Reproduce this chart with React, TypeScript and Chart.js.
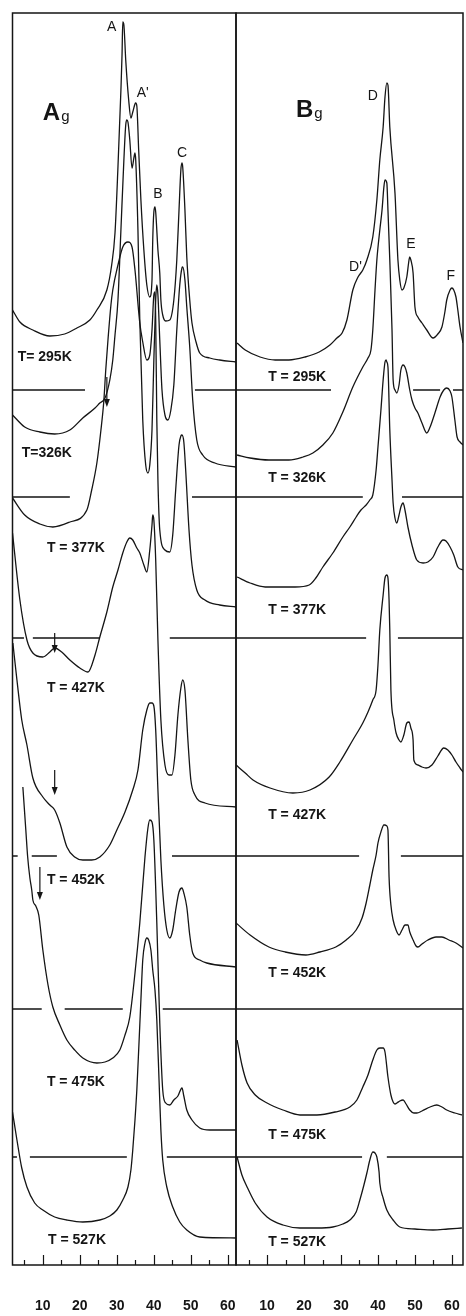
import React, { useEffect, useRef } from 'react';
import { Chart, registerables } from 'chart.js';

Chart.register(...registerables);

// ---------- data (wavenumber cm^-1, intensity in arbitrary units above each zero line) ----------
const temperatures = ['295K', '326K', '377K', '427K', '452K', '475K', '527K'];
const zeroLineOffsets = [875, 768, 627, 409, 256, 108, 0];
const tickValues = [10, 20, 30, 40, 50, 60];

const ag295 = [[1.8,80],[3.8,68],[7.3,60],[11.9,54],[15.9,56],[19.2,62],[22.7,70],[24.6,80],[27.3,100],[28.6,125],[29.5,157],[30.3,223],[31.1,300],[31.4,335],[31.6,368],[31.9,365],[32.4,330],[33.2,290],[33.8,272],[34.3,278],[34.9,286],[35.1,287],[35.4,284],[35.9,240],[36.5,190],[37.3,140],[38.1,105],[38.9,93],[39.5,110],[39.7,150],[40.0,178],[40.3,183],[40.5,178],[41.1,140],[41.6,117],[41.9,90],[42.4,75],[43.2,69],[44.3,70],[45.4,90],[46.2,130],[46.8,180],[47.3,220],[47.6,227],[47.8,223],[48.4,180],[48.9,133],[49.7,90],[50.3,67],[51.4,48],[52.4,37],[55.1,32],[57.8,30],[62.2,28]];
const ag326 = [[1.8,82],[5.1,70],[9.2,65],[13.2,63],[17.3,67],[20.8,79],[24.1,89],[25.4,94],[26.8,99],[28.1,117],[28.9,137],[29.5,162],[30.3,197],[31.1,267],[31.9,337],[32.4,372],[32.7,377],[33.0,375],[33.5,357],[34.1,329],[34.6,339],[34.9,344],[35.1,337],[35.7,267],[36.2,177],[37.0,77],[37.8,32],[38.4,24],[38.9,32],[39.5,67],[40.0,137],[40.5,197],[40.8,212],[41.1,202],[41.6,157],[42.2,107],[43.0,82],[43.8,77],[44.6,87],[45.4,112],[46.2,167],[47.0,212],[47.6,229],[47.8,230],[48.4,217],[48.9,190],[49.7,150],[50.5,97],[51.6,57],[53.2,42],[56.5,34],[62.2,30]];
const ag377 = [[1.8,140],[5.1,123],[9.2,114],[12.7,111],[17.3,116],[21.9,128],[23.2,148],[24.6,175],[25.7,208],[26.5,238],[27.0,268],[27.6,298],[28.4,333],[28.9,348],[30.3,373],[31.6,391],[33.0,396],[34.1,391],[34.9,368],[36.2,315],[37.0,296],[38.1,278],[38.9,283],[39.5,308],[40.0,343],[40.3,346],[40.5,318],[40.8,218],[41.1,158],[41.6,108],[43.0,88],[44.3,86],[45.1,103],[45.9,148],[46.8,193],[47.3,202],[47.6,203],[48.1,196],[48.6,168],[49.5,108],[50.3,73],[51.6,48],[53.8,38],[57.8,33],[62.2,31]];
const ag427 = [[1.8,323],[3.8,256],[5.7,216],[7.3,203],[10.0,199],[11.9,204],[13.2,208],[15.1,204],[17.3,196],[20.0,188],[22.2,184],[24.1,201],[25.4,219],[27.3,244],[28.9,269],[30.3,286],[31.6,303],[32.7,314],[33.5,318],[34.3,316],[35.4,308],[36.2,303],[37.3,291],[38.1,284],[38.9,306],[39.5,331],[39.7,341],[40.0,336],[40.5,296],[41.1,216],[41.9,136],[43.0,91],[44.1,81],[44.9,81],[45.7,101],[46.5,141],[47.3,168],[47.8,176],[48.4,166],[49.2,116],[50.0,76],[51.1,61],[53.8,53],[62.2,49]];
const ag452 = [[1.9,366],[3.0,329],[4.3,289],[5.7,264],[7.3,231],[10.0,212],[11.9,204],[13.2,199],[14.6,186],[16.5,162],[18.6,152],[20.8,149],[23.2,149],[25.4,152],[28.1,164],[30.0,179],[32.2,197],[34.3,219],[35.7,239],[37.0,279],[38.1,299],[38.9,306],[39.5,306],[40.0,303],[40.5,279],[41.1,219],[41.9,149],[42.7,104],[43.5,79],[44.3,71],[45.1,79],[45.9,99],[46.8,117],[47.6,121],[48.1,116],[48.9,102],[49.7,74],[50.5,56],[52.4,49],[54.3,46],[62.2,42]];
const ag475 = [[4.6,370],[5.4,327],[5.9,300],[6.5,279],[7.0,267],[7.3,257],[8.1,251],[8.9,242],[10.0,207],[11.4,172],[12.7,150],[14.6,132],[16.5,117],[18.6,107],[20.8,99],[24.6,94],[26.8,95],[28.9,99],[30.8,107],[32.2,122],[33.5,140],[34.9,184],[36.2,234],[37.6,300],[38.4,329],[38.9,337],[39.5,335],[40.0,317],[40.8,234],[41.6,134],[42.4,67],[43.2,54],[44.3,52],[45.4,57],[46.5,61],[47.6,69],[48.1,61],[48.9,47],[50.3,37],[52.4,29],[55.1,27],[62.2,27]];
const ag527 = [[1.8,153],[3.0,125],[4.3,97],[5.7,78],[7.8,62],[10.0,55],[13.2,48],[16.5,45],[20.8,43],[25.4,45],[28.1,49],[30.0,55],[31.6,65],[33.0,78],[33.8,95],[34.3,115],[34.9,145],[35.4,175],[35.9,215],[36.5,265],[37.0,305],[37.6,322],[38.1,327],[38.6,325],[39.2,315],[39.7,295],[40.3,275],[40.8,245],[41.4,185],[41.9,135],[42.4,105],[43.5,78],[45.1,58],[47.0,43],[48.9,35],[52.4,28],[62.2,27]];

const bg295 = [[1.9,47],[4.1,40],[8.1,33],[12.2,30],[15.9,30],[20.3,33],[24.1,38],[27.0,45],[28.9,52],[30.3,57],[31.6,70],[33.2,100],[34.6,113],[35.9,120],[37.0,130],[38.6,153],[39.7,190],[40.5,230],[41.4,263],[41.9,293],[42.4,307],[42.7,305],[43.2,263],[44.6,197],[45.4,130],[45.9,110],[46.5,100],[47.0,102],[47.8,113],[48.4,130],[48.6,133],[48.9,130],[49.5,117],[50.0,83],[50.8,73],[51.9,67],[53.2,60],[54.9,52],[56.2,56],[57.3,63],[58.1,78],[58.6,90],[59.5,100],[60.0,102],[60.5,100],[61.1,93],[61.6,80],[62.2,63],[63.0,47]];
const bg326 = [[1.9,42],[5.4,39],[10.5,37],[15.9,37],[19.7,40],[22.4,44],[25.1,52],[27.8,64],[30.5,85],[33.2,110],[35.9,130],[37.3,139],[38.1,147],[38.6,167],[39.2,207],[39.7,237],[40.5,267],[41.1,287],[41.6,310],[41.9,317],[42.4,314],[42.7,287],[43.2,237],[43.8,167],[44.1,117],[44.6,107],[45.1,104],[45.7,112],[46.2,127],[46.8,132],[47.3,130],[47.8,124],[48.6,107],[49.2,97],[50.0,89],[50.8,84],[51.9,74],[53.2,64],[54.1,70],[55.4,84],[56.8,100],[57.8,107],[58.6,109],[59.5,106],[60.0,100],[60.8,77],[61.4,60],[62.2,55],[63.0,52]];
const bg377 = [[1.9,61],[5.4,55],[9.5,51],[13.2,51],[17.6,51],[21.4,53],[23.2,60],[25.1,71],[27.8,85],[30.5,101],[32.4,111],[34.1,121],[35.4,128],[36.8,133],[37.8,138],[38.6,143],[39.5,168],[40.0,191],[40.8,228],[41.4,258],[41.9,276],[42.2,278],[42.4,276],[42.7,271],[43.2,208],[43.8,158],[44.1,135],[44.6,120],[45.1,115],[45.7,123],[46.2,131],[46.8,135],[47.3,128],[48.1,111],[49.2,93],[50.5,78],[52.2,75],[53.5,76],[54.9,81],[56.2,91],[57.6,98],[58.4,97],[59.5,91],[60.5,83],[61.6,71],[63.0,68]];
const bg427 = [[1.6,91],[4.1,83],[6.2,76],[10.8,68],[17.0,63],[21.6,66],[26.8,79],[29.7,94],[33.2,116],[35.9,133],[37.3,144],[38.6,156],[39.5,166],[40.0,191],[40.5,226],[41.4,261],[41.9,278],[42.4,281],[42.7,278],[43.0,256],[43.2,226],[43.5,166],[44.3,136],[44.9,123],[45.7,116],[46.2,114],[47.0,121],[47.8,133],[48.4,134],[48.9,128],[49.5,116],[49.7,96],[50.8,91],[51.9,89],[53.0,88],[54.6,91],[56.2,100],[57.8,108],[58.9,106],[60.0,101],[61.1,94],[62.2,88],[63.0,84]];
const bg452 = [[1.6,86],[5.4,74],[10.5,62],[14.9,57],[20.5,54],[24.3,57],[28.6,62],[31.4,69],[34.1,79],[35.7,91],[36.8,106],[37.8,124],[38.6,139],[39.5,154],[40.0,166],[40.8,177],[41.6,184],[41.9,184],[42.4,183],[42.7,179],[43.0,132],[43.5,104],[44.1,89],[44.9,79],[45.7,74],[46.5,79],[47.3,84],[48.1,84],[48.6,77],[49.5,69],[50.3,63],[50.8,62],[51.9,65],[53.5,69],[55.7,72],[57.3,72],[59.2,69],[61.1,66],[63.0,61]];
const bg475 = [[1.9,117],[3.2,92],[4.6,74],[6.8,62],[10.0,54],[14.3,47],[18.9,42],[23.5,42],[28.4,45],[32.4,50],[34.3,57],[35.9,70],[37.3,82],[38.6,97],[39.7,107],[40.5,109],[41.4,109],[41.9,105],[42.7,80],[43.5,62],[44.1,55],[44.6,53],[45.1,54],[45.9,56],[46.8,57],[47.6,53],[48.6,47],[49.7,44],[50.5,44],[51.9,46],[54.1,50],[55.9,52],[57.3,50],[58.6,47],[60.8,44],[62.7,42]];
const bg527 = [[1.9,108],[3.2,90],[4.6,78],[6.8,62],[10.0,48],[14.3,40],[18.9,37],[23.5,37],[27.8,38],[30.5,41],[32.4,45],[34.1,53],[35.1,65],[36.2,80],[37.0,92],[37.8,105],[38.6,113],[39.2,112],[39.7,108],[40.3,93],[40.5,82],[41.4,67],[42.4,55],[44.1,45],[45.9,38],[50.0,36],[54.9,35],[58.9,36],[62.7,37]];

// zero-line segments (wavenumber ranges where each zero line is drawn)
const agZeroSegments = [
  [[1.8, 21.4], [51.1, 62.2]],
  [[1.8, 17.3], [50.3, 62.2]],
  [[1.8, 4.9], [7.3, 25.4], [44.3, 62.2]],
  [[1.8, 3.2], [7.0, 13.8], [44.9, 62.2]],
  [[1.8, 9.7], [15.9, 31.6], [42.4, 62.2]],
  [[1.8, 3.0], [6.5, 32.7], [43.5, 62.2]],
  [],
];
const bgZeroSegments = [
  [[1.6, 27.3], [49.5, 56.8], [60.3, 63.0]],
  [[1.6, 35.9], [46.5, 63.0]],
  [[1.6, 36.8], [45.4, 63.0]],
  [[1.6, 34.9], [46.2, 63.0]],
  [[1.6, 63.0]],
  [[1.6, 35.7], [42.4, 63.0]],
  [],
];

const agSpectra = [ag295, ag326, ag377, ag427, ag452, ag475, ag527];
const bgSpectra = [bg295, bg326, bg377, bg427, bg452, bg475, bg527];

// ---------- annotations ----------
const INK = '#151515';
const LABEL_FONT = 'bold 14px "Liberation Sans", Arial, sans-serif';
const PEAK_FONT = '14px "Liberation Sans", Arial, sans-serif';

const agTexts = [
  { t: 'T= 295K', x: 3.2, y: 908 },
  { t: 'T=326K', x: 4.3, y: 812 },
  { t: 'T = 377K', x: 11.1, y: 717 },
  { t: 'T = 427K', x: 11.1, y: 577 },
  { t: 'T = 452K', x: 11.1, y: 385 },
  { t: 'T = 475K', x: 11.1, y: 183 },
  { t: 'T = 527K', x: 11.4, y: 25 },
];
const bgTexts = [
  { t: 'T = 295K', x: 10.3, y: 888 },
  { t: 'T = 326K', x: 10.3, y: 787 },
  { t: 'T = 377K', x: 10.3, y: 655 },
  { t: 'T = 427K', x: 10.3, y: 450 },
  { t: 'T = 452K', x: 10.3, y: 292 },
  { t: 'T = 475K', x: 10.3, y: 130 },
  { t: 'T = 527K', x: 10.3, y: 23 },
];
const agPeaks = [
  { t: 'A', x: 28.6, y: 1238 },
  { t: "A'", x: 37.0, y: 1172 },
  { t: 'B', x: 41.1, y: 1071 },
  { t: 'C', x: 47.6, y: 1112 },
];
const bgPeaks = [
  { t: 'D', x: 38.6, y: 1169 },
  { t: "D'", x: 33.9, y: 998 },
  { t: 'E', x: 48.9, y: 1021 },
  { t: 'F', x: 59.7, y: 989 },
];
const agArrows = [
  { x: 27.3, y1: 888, y2: 858 },
  { x: 13.2, y1: 632, y2: 612 },
  { x: 13.2, y1: 495, y2: 470 },
  { x: 9.2, y1: 398, y2: 365 },
];

type Txt = { t: string; x: number; y: number };
type Arrow = { x: number; y1: number; y2: number };

function makeDecor(title: { main: string; sub: string; x: number; y: number }, texts: Txt[], peaks: Txt[], arrows: Arrow[]) {
  return {
    id: 'panelDecor',
    afterDraw(chart: any) {
      const { ctx, chartArea: a } = chart;
      const xs = chart.scales.x;
      const ys = chart.scales.y;
      ctx.save();
      ctx.strokeStyle = INK;
      ctx.fillStyle = INK;
      ctx.lineWidth = 1.5;
      ctx.strokeRect(a.left, a.top, a.right - a.left, a.bottom - a.top);
      ctx.lineWidth = 1.2;
      xs.ticks.forEach((tk: any) => {
        const px = Math.round(xs.getPixelForValue(tk.value)) + 0.5;
        const len = tk.value % 10 === 0 ? 10 : 5;
        ctx.beginPath();
        ctx.moveTo(px, a.bottom);
        ctx.lineTo(px, a.bottom - len);
        ctx.stroke();
      });
      ctx.textBaseline = 'middle';
      ctx.textAlign = 'left';
      ctx.font = LABEL_FONT;
      texts.forEach((t) => ctx.fillText(t.t, xs.getPixelForValue(t.x), ys.getPixelForValue(t.y)));
      ctx.textAlign = 'center';
      ctx.font = PEAK_FONT;
      peaks.forEach((t) => ctx.fillText(t.t, xs.getPixelForValue(t.x), ys.getPixelForValue(t.y)));
      // panel title with subscript
      ctx.textAlign = 'left';
      ctx.textBaseline = 'alphabetic';
      const tx = xs.getPixelForValue(title.x);
      const ty = ys.getPixelForValue(title.y);
      ctx.font = 'bold 24px "Liberation Sans", Arial, sans-serif';
      ctx.fillText(title.main, tx, ty);
      const w = ctx.measureText(title.main).width;
      ctx.font = '15px "Liberation Sans", Arial, sans-serif';
      ctx.fillText(title.sub, tx + w + 1, ty + 1);
      // arrows
      ctx.lineWidth = 1.2;
      arrows.forEach((ar) => {
        const px = xs.getPixelForValue(ar.x);
        const p1 = ys.getPixelForValue(ar.y1);
        const p2 = ys.getPixelForValue(ar.y2);
        ctx.beginPath();
        ctx.moveTo(px, p1);
        ctx.lineTo(px, p2 - 6);
        ctx.stroke();
        ctx.beginPath();
        ctx.moveTo(px, p2);
        ctx.lineTo(px - 3, p2 - 8);
        ctx.lineTo(px + 3, p2 - 8);
        ctx.closePath();
        ctx.fill();
      });
      ctx.restore();
    },
  };
}

function buildDatasets(spectra: number[][][], segments: number[][][]) {
  const ds: any[] = [];
  spectra.forEach((sp, i) => {
    const off = zeroLineOffsets[i];
    ds.push({
      label: temperatures[i],
      data: sp.map(([w, v]) => ({ x: w, y: off + v })),
      borderColor: INK,
      borderWidth: 1.3,
      pointRadius: 0,
      cubicInterpolationMode: 'monotone',
      fill: false,
    });
    const segPts: any[] = [];
    segments[i].forEach(([a, b], k) => {
      if (k > 0) segPts.push({ x: (a + segments[i][k - 1][1]) / 2, y: null });
      segPts.push({ x: a, y: off });
      segPts.push({ x: b, y: off });
    });
    if (segPts.length) {
      ds.push({
        label: temperatures[i] + ' zero',
        data: segPts,
        borderColor: INK,
        borderWidth: 1.3,
        pointRadius: 0,
        tension: 0,
        spanGaps: false,
        fill: false,
      });
    }
  });
  return ds;
}

function makeConfig(spectra: number[][][], segments: number[][][], xmin: number, xmax: number, padding: any, decor: any) {
  return {
    type: 'line',
    data: { datasets: buildDatasets(spectra, segments) },
    options: {
      responsive: false,
      animation: false,
      events: [],
      layout: { padding, autoPadding: false },
      plugins: { legend: { display: false }, tooltip: { enabled: false } },
      scales: {
        x: {
          type: 'linear',
          min: xmin,
          max: xmax,
          grid: { display: true, drawOnChartArea: false, drawTicks: true, tickLength: 33, tickColor: 'rgba(0,0,0,0)' },
          border: { display: false },
          ticks: {
            stepSize: 5,
            includeBounds: false,
            autoSkip: false,
            maxRotation: 0,
            padding: 0,
            color: INK,
            font: { family: '"Liberation Sans", Arial, sans-serif', size: 14, weight: 'bold' },
            callback: (v: number) => (tickValues.includes(v) ? String(v) : ''),
          },
        },
        y: { type: 'linear', min: 0, max: 1252, display: false },
      },
    },
    plugins: [decor],
  };
}

export default function App() {
  const leftRef = useRef<HTMLCanvasElement>(null);
  const rightRef = useRef<HTMLCanvasElement>(null);

  useEffect(() => {
    const left = new Chart(
      leftRef.current as HTMLCanvasElement,
      makeConfig(agSpectra, agZeroSegments, 1.8, 62.2, { left: 12.5, right: 4, top: 13, bottom: 1.2 },
        makeDecor({ main: 'A', sub: 'g', x: 10.0, y: 1145 }, agTexts, agPeaks, agArrows)) as any
    );
    const right = new Chart(
      rightRef.current as HTMLCanvasElement,
      makeConfig(bgSpectra, bgZeroSegments, 1.6, 63.0, { left: 4, right: 3, top: 13, bottom: 1.2 },
        makeDecor({ main: 'B', sub: 'g', x: 17.8, y: 1148 }, bgTexts, bgPeaks, [])) as any
    );
    return () => {
      left.destroy();
      right.destroy();
    };
  }, []);

  return (
    <div style={{ position: 'absolute', left: 0, top: 0, width: 466, height: 1316, overflow: 'hidden', background: '#fff' }}>
      <canvas ref={leftRef} width={240} height={1316} style={{ position: 'absolute', left: 0, top: 0, width: 240, height: 1316 }} />
      <canvas ref={rightRef} width={234} height={1316} style={{ position: 'absolute', left: 232, top: 0, width: 234, height: 1316 }} />
    </div>
  );
}
